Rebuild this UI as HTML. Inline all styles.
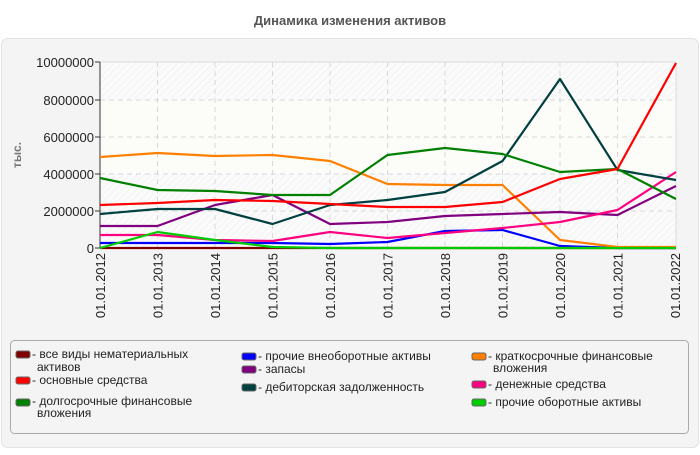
<!DOCTYPE html>
<html><head><meta charset="utf-8"><style>
body{margin:0;width:700px;height:450px;background:#fff;font-family:"Liberation Sans","DejaVu Sans",sans-serif;overflow:hidden}
</style></head><body>
<svg width="700" height="450" xmlns="http://www.w3.org/2000/svg" font-family="Liberation Sans, DejaVu Sans, sans-serif">
<defs>
<pattern id="h" width="5" height="5" patternUnits="userSpaceOnUse" patternTransform="rotate(45)">
<rect width="5" height="5" fill="#fbfbfb"/><line x1="0" y1="0" x2="0" y2="5" stroke="#f0f0f0" stroke-width="1.5"/>
</pattern>
</defs>
<text x="350" y="25" text-anchor="middle" font-size="13" font-weight="bold" fill="#555">Динамика изменения активов</text>
<rect x="1.5" y="38.5" width="697" height="409" rx="6" fill="#f4f4f4" stroke="#e2e2e2"/>
<rect x="100" y="62" width="576" height="186" fill="url(#h)"/>
<rect x="100" y="100" width="576" height="74" fill="#fdfdf8" opacity="0.8"/>
<g stroke="#d8d8d8" stroke-dasharray="5,4" stroke-width="1">
<line x1="100" y1="100" x2="676" y2="100"/><line x1="100" y1="137" x2="676" y2="137"/>
<line x1="100" y1="174" x2="676" y2="174"/><line x1="100" y1="211" x2="676" y2="211"/>
<line x1="157.5" y1="62" x2="157.5" y2="248"/><line x1="215" y1="62" x2="215" y2="248"/>
<line x1="272.5" y1="62" x2="272.5" y2="248"/><line x1="330" y1="62" x2="330" y2="248"/>
<line x1="387.5" y1="62" x2="387.5" y2="248"/><line x1="445" y1="62" x2="445" y2="248"/>
<line x1="502.5" y1="62" x2="502.5" y2="248"/><line x1="560" y1="62" x2="560" y2="248"/>
<line x1="617.5" y1="62" x2="617.5" y2="248"/>
</g>
<line x1="100" y1="62" x2="676" y2="62" stroke="#ddd"/>
<line x1="676" y1="62" x2="676" y2="248" stroke="#ddd"/>
<line x1="100" y1="62" x2="100" y2="248" stroke="#333"/>
<line x1="100" y1="248" x2="676" y2="248" stroke="#333"/>
<g stroke="#333"><line x1="95" y1="62" x2="100" y2="62"/><line x1="95" y1="100" x2="100" y2="100"/><line x1="95" y1="137" x2="100" y2="137"/><line x1="95" y1="174" x2="100" y2="174"/><line x1="95" y1="211" x2="100" y2="211"/><line x1="95" y1="248" x2="100" y2="248"/></g>
<g font-size="13" fill="#222" text-anchor="end">
<text x="94" y="67">10000000</text><text x="94" y="105">8000000</text><text x="94" y="142">6000000</text><text x="94" y="179">4000000</text><text x="94" y="216">2000000</text><text x="94" y="253">0</text>
</g>
<text transform="translate(21,155) rotate(-90)" text-anchor="middle" font-size="12" font-weight="bold" fill="#777">тыс.</text>
<g font-size="13" fill="#222" text-anchor="end">
<text transform="translate(105,253) rotate(-90)">01.01.2012</text>
<text transform="translate(162.5,253) rotate(-90)">01.01.2013</text>
<text transform="translate(220,253) rotate(-90)">01.01.2014</text>
<text transform="translate(277.5,253) rotate(-90)">01.01.2015</text>
<text transform="translate(335,253) rotate(-90)">01.01.2016</text>
<text transform="translate(392.5,253) rotate(-90)">01.01.2017</text>
<text transform="translate(450,253) rotate(-90)">01.01.2018</text>
<text transform="translate(507.5,253) rotate(-90)">01.01.2019</text>
<text transform="translate(565,253) rotate(-90)">01.01.2020</text>
<text transform="translate(622.5,253) rotate(-90)">01.01.2021</text>
<text transform="translate(680,253) rotate(-90)">01.01.2022</text>
</g>
<g fill="none" stroke-width="2.2" stroke-linejoin="round">
<polyline stroke="#800000" points="100,248 157.5,248 215,248 272.5,248 330,248 387.5,248 445,248 502.5,248 560,248 617.5,248 676,248"/>
<polyline stroke="#0000ff" points="100,243 157.5,243 215,243 272.5,243 330,244 387.5,242 445,231 502.5,230 560,246 617.5,248 676,248"/>
<polyline stroke="#ff8000" points="100,157 157.5,153 215,156 272.5,155 330,161 387.5,184 445,185 502.5,185 560,240 617.5,247 676,247"/>
<polyline stroke="#800080" points="100,226 157.5,226 215,205 272.5,195 330,224 387.5,222 445,216 502.5,214 560,212 617.5,215 676,186"/>
<polyline stroke="#ff0080" points="100,235 157.5,235 215,240 272.5,241 330,232 387.5,238 445,233 502.5,228 560,222 617.5,210 676,172"/>
<polyline stroke="#004040" points="100,214 157.5,209 215,209 272.5,224 330,205 387.5,200 445,192 502.5,161 560,79 617.5,170 676,180"/>
<polyline stroke="#008000" points="100,178 157.5,190 215,191 272.5,195 330,195 387.5,155 445,148 502.5,154 560,172 617.5,169 676,199"/>
<polyline stroke="#ff0000" points="100,205 157.5,203 215,200 272.5,201 330,204 387.5,207 445,207 502.5,202 560,179 617.5,169 676,63"/>
<polyline stroke="#00cc00" points="100,248 157.5,232 215,240 272.5,247 330,248 387.5,248 445,248 502.5,248 560,248 617.5,248 676,248"/>
</g>
<rect x="10.5" y="340.5" width="678" height="93" rx="4" fill="#f4f4f4" stroke="#aaa"/>
<g font-size="12" fill="#222">
<rect x="16" y="351" width="14" height="7" rx="2" fill="#800000" stroke="#666"/><text x="32" y="358">- все виды нематериальных</text><text x="37" y="371">активов</text>
<rect x="16" y="377" width="14" height="7" rx="2" fill="#ff0000" stroke="#666"/><text x="32" y="384">- основные средства</text>
<rect x="16" y="399" width="14" height="7" rx="2" fill="#008000" stroke="#666"/><text x="32" y="405">- долгосрочные финансовые</text><text x="37" y="417">вложения</text>
<rect x="242" y="353" width="14" height="7" rx="2" fill="#0000ff" stroke="#666"/><text x="258" y="360">- прочие внеоборотные активы</text>
<rect x="242" y="366" width="14" height="7" rx="2" fill="#800080" stroke="#666"/><text x="258" y="373">- запасы</text>
<rect x="242" y="384" width="14" height="7" rx="2" fill="#004040" stroke="#666"/><text x="258" y="391">- дебиторская задолженность</text>
<rect x="472" y="353" width="14" height="7" rx="2" fill="#ff8000" stroke="#666"/><text x="488" y="360">- краткосрочные финансовые</text><text x="493" y="372">вложения</text>
<rect x="472" y="381" width="14" height="7" rx="2" fill="#ff0080" stroke="#666"/><text x="488" y="388">- денежные средства</text>
<rect x="472" y="399" width="14" height="7" rx="2" fill="#00cc00" stroke="#666"/><text x="488" y="406">- прочие оборотные активы</text>
</g>
</svg>
</body></html>
